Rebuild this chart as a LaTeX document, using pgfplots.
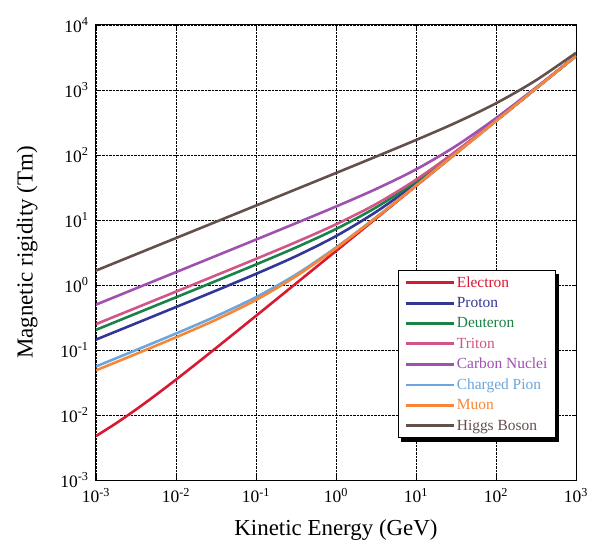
\documentclass[border=0pt]{standalone}
\usepackage{pgfplots}
\pgfplotsset{compat=1.18}
\usepackage{fontspec}
\setmainfont{Liberation Serif}
\usetikzlibrary{backgrounds}
\definecolor{cEle}{RGB}{215,25,50}
\definecolor{cPro}{RGB}{50,55,150}
\definecolor{cDeu}{RGB}{25,130,70}
\definecolor{cTri}{RGB}{210,85,135}
\definecolor{cCar}{RGB}{160,80,175}
\definecolor{cPio}{RGB}{110,165,220}
\definecolor{cMuo}{RGB}{245,135,55}
\definecolor{cHig}{RGB}{100,80,75}
\begin{document}
\begin{tikzpicture}
\begin{axis}[
  scale only axis, width=480bp, height=455bp,
  xmode=log, ymode=log,
  xmin=1e-3, xmax=1e3, ymin=1e-3, ymax=1e4,
  xtick={1e-3,1e-2,1e-1,1,1e1,1e2,1e3},
  xticklabels={10\textsuperscript{-3},10\textsuperscript{-2},10\textsuperscript{-1},10\textsuperscript{0},10\textsuperscript{1},10\textsuperscript{2},10\textsuperscript{3}},
  ytick={1e-3,1e-2,1e-1,1,1e1,1e2,1e3,1e4},
  yticklabels={10\textsuperscript{-3},10\textsuperscript{-2},10\textsuperscript{-1},10\textsuperscript{0},10\textsuperscript{1},10\textsuperscript{2},10\textsuperscript{3},10\textsuperscript{4}},
  xminorticks=false, yminorticks=false,
  grid=major, major grid style={black, densely dotted, line width=0.7pt},
  tick style={black, line width=0.8pt}, major tick length=4bp,
  axis line style={line width=1pt},
  tick label style={font=\fontsize{17.5}{17.5}\selectfont},
  label style={font=\fontsize{23}{23}\selectfont},
  xlabel={Kinetic Energy (GeV)},
  ylabel={Magnetic rigidity (Tm)},
  xlabel shift=10bp, ylabel shift=16bp,
  xticklabel shift=5bp, yticklabel shift=4bp,
  legend cell align=left,
  legend style={name=leg, at={(rel axis cs:0.958,0.092)}, anchor=south east,
    draw=black, line width=1pt, fill=white,
    font=\fontsize{15.5}{18}\selectfont, row sep=4.6bp, inner xsep=6bp, inner ysep=4bp},
  legend image code/.code={\draw[#1, line width=2.6pt] (0bp,0bp) -- (48bp,0bp);},
  every axis plot/.append style={line width=2.6pt, smooth},
]
\addplot[cEle] coordinates {(0.001,0.004743) (0.001778,0.0074435) (0.003162,0.012133) (0.005623,0.020391) (0.01,0.03502) (0.01778,0.060998) (0.03162,0.10717) (0.1,0.33526) (0.3162,1.0565) (1,3.3373) (3.162,10.549) (10,33.358) (31.62,105.48) (100,333.56) (316.2,1054.8) (1000,3335.6)};
\addlegendentry{\textcolor{cEle}{Electron}}
\addplot[cPro] coordinates {(0.001,0.14454) (0.003162,0.25716) (0.01,0.45815) (0.03162,0.81934) (0.1,1.4829) (0.3162,2.7775) (1,5.6573) (3.162,13.315) (10,36.351) (31.62,108.57) (100,336.68) (316.2,1057.9) (1000,3338.7)};
\addlegendentry{\textcolor{cPro}{Proton}}
\addplot[cDeu] coordinates {(0.001,0.20432) (0.003162,0.36343) (0.01,0.64690) (0.03162,1.1536) (0.1,2.0700) (0.3162,3.7828) (1,7.2707) (3.162,15.596) (10,39.115) (31.62,111.56) (100,339.76) (316.2,1061.0) (1000,3341.9)};
\addlegendentry{\textcolor{cDeu}{Deuteron}}
\addplot[cTri] coordinates {(0.001,0.25003) (0.003162,0.44470) (0.01,0.79130) (0.03162,1.4098) (0.1,2.5223) (0.3162,4.5692) (1,8.5809) (3.162,17.576) (10,41.685) (31.62,114.47) (100,342.80) (316.2,1064.1) (1000,3345.0)};
\addlegendentry{\textcolor{cTri}{Triton}}
\addplot[cCar] coordinates {(0.001,0.49868) (0.003162,0.88680) (0.01,1.5773) (0.03162,2.8061) (0.1,4.9978) (0.3162,8.9298) (1,16.118) (3.162,29.959) (10,59.994) (31.62,137.80) (100,368.96) (316.2,1091.4) (1000,3372.7)};
\addlegendentry{\textcolor{cCar}{Carbon Nuclei}}
\addplot[cPio] coordinates {(0.001,0.055829) (0.003162,0.099659) (0.01,0.17936) (0.03162,0.33066) (0.1,0.64949) (0.3162,1.4473) (1,3.7725) (3.162,11.004) (10,33.818) (31.62,105.95) (100,334.02) (316.2,1055.3) (1000,3336.1)};
\addlegendentry{\textcolor{cPio}{Charged Pion}}
\addplot[cMuo] coordinates {(0.001,0.048604) (0.003162,0.086865) (0.01,0.15692) (0.03162,0.29235) (0.1,0.58854) (0.3162,1.3624) (1,3.6712) (3.162,10.895) (10,33.707) (31.62,105.83) (100,333.91) (316.2,1055.2) (1000,3336.0)};
\addlegendentry{\textcolor{cMuo}{Muon}}
\addplot[cHig] coordinates {(0.001,1.6678) (0.003162,2.9657) (0.01,5.2741) (0.03162,9.3789) (0.1,16.681) (0.3162,29.675) (1,52.846) (3.162,94.375) (10,170.08) (31.62,314.77) (100,624.03) (316.2,1411.4) (1000,3729.3)};
\addlegendentry{\textcolor{cHig}{Higgs Boson}}
\end{axis}
\begin{scope}[on background layer]
\fill[black] ([shift={(3.5bp,-3.5bp)}]leg.south west) rectangle ([shift={(3.5bp,-3.5bp)}]leg.north east);
\end{scope}
\pgfresetboundingbox
\path ([shift={(-96bp,-62bp)}]current axis.south west) rectangle ([shift={(22bp,25bp)}]current axis.north east);
\end{tikzpicture}
\end{document}
